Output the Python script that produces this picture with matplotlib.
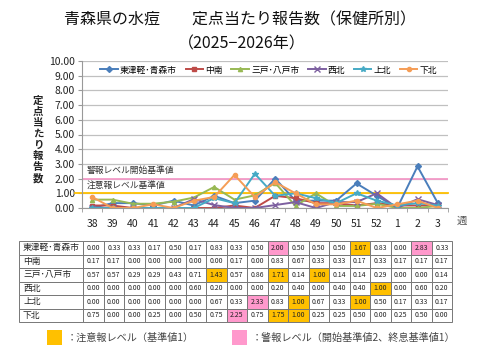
import matplotlib
matplotlib.use("Agg")
import matplotlib.pyplot as plt
import numpy as np
from matplotlib.patches import Rectangle

plt.rcParams['font.family'] = ['Noto Sans CJK JP', 'DejaVu Sans']

weeks = ["38", "39", "40", "41", "42", "43", "44", "45", "46", "47", "48", "49", "50", "51", "52", "1", "2", "3"]
names = ["東津軽･青森市", "中南", "三戸･八戸市", "西北", "上北", "下北"]
higashi = [0.00, 0.33, 0.33, 0.17, 0.50, 0.17, 0.83, 0.33, 0.50, 2.00, 0.50, 0.50, 0.50, 1.67, 0.83, 0.00, 2.83, 0.33]
chunan = [0.17, 0.17, 0.00, 0.00, 0.00, 0.00, 0.00, 0.17, 0.00, 0.83, 0.67, 0.33, 0.33, 0.17, 0.33, 0.17, 0.17, 0.17]
sannohe = [0.57, 0.57, 0.29, 0.29, 0.43, 0.71, 1.43, 0.57, 0.86, 1.71, 0.14, 1.00, 0.14, 0.14, 0.29, 0.00, 0.00, 0.14]
seihoku = [0.00, 0.00, 0.00, 0.00, 0.00, 0.60, 0.20, 0.00, 0.00, 0.20, 0.40, 0.00, 0.40, 0.40, 1.00, 0.00, 0.60, 0.20]
kamikita = [0.00, 0.00, 0.00, 0.00, 0.00, 0.00, 0.67, 0.33, 2.33, 0.83, 1.00, 0.67, 0.33, 1.00, 0.50, 0.17, 0.33, 0.17]
shimokita = [0.75, 0.00, 0.00, 0.25, 0.00, 0.50, 0.75, 2.25, 0.75, 1.75, 1.00, 0.25, 0.25, 0.50, 0.00, 0.25, 0.50, 0.00]
series = [higashi, chunan, sannohe, seihoku, kamikita, shimokita]
colors = ["#4A7EBB", "#BE4B48", "#98B954", "#7D60A0", "#46AAC5", "#F59D56"]
markers = ["D", "s", "^", "x", "*", "o"]
alarm_level = 2.0
caution_level = 1.0
yticks = [0, 1, 2, 3, 4, 5, 6, 7, 8, 9, 10]

W, H = 480, 360
fig = plt.figure(figsize=(4.8, 3.6), dpi=100)

def fx(px):
    return px / W

def fy(py):
    return 1 - py / H

# main plot
ax = fig.add_axes([fx(82), fy(208), (448 - 82) / W, (208 - 61) / H])
x = np.arange(len(weeks))
for vals, nm, c, m in zip(series, names, colors, markers):
    ms = 3.0 if m in ("D", "s", "^", "o") else 4.0
    ax.plot(x, vals, color=c, marker=m, markersize=ms, linewidth=1.4, label=nm,
            markeredgewidth=1.0)
ax.set_xlim(-0.5, len(weeks) - 0.5)
ax.set_ylim(0, 10)
ax.set_yticks(yticks)
ax.set_yticklabels([f"{v:.2f}" for v in yticks], fontsize=7.5, color="#222222")
ax.set_xticks(x)
ax.set_xticklabels(weeks, fontsize=7.5, color="#222222")
ax.set_xticks(np.arange(-0.5, len(weeks), 1), minor=True)
ax.tick_params(axis='x', which='major', length=0, pad=8)
ax.tick_params(axis='x', which='minor', length=3, color="#999999", direction='out')
ax.tick_params(axis='y', length=3, color="#999999", pad=2)
ax.grid(axis='y', color="#C0C0C0", linewidth=0.9)
ax.set_axisbelow(True)
for s in ["top", "right"]:
    ax.spines[s].set_visible(False)
ax.spines["left"].set_color("#999999")
ax.spines["bottom"].set_color("#999999")

ax.axhline(alarm_level, color="#F49AC8", linewidth=1.3, zorder=1)
ax.plot([-0.85, len(weeks) - 0.5], [caution_level, caution_level], color="#FFC000",
        linewidth=1.3, zorder=1, clip_on=False)
ax.text(-0.25, alarm_level + 0.25, "警報レベル開始基準値", fontsize=6.3, color="#333333", va="bottom")
ax.text(-0.25, caution_level + 0.25, "注意報レベル基準値", fontsize=6.3, color="#333333", va="bottom")

leg = ax.legend(loc="upper center", bbox_to_anchor=(0.51, 1.005), ncol=6, frameon=False,
                fontsize=6.3, handlelength=2.0, columnspacing=1.0, handletextpad=0.25,
                borderaxespad=0.2)

# y label vertical stacked
ylab = "定点当たり報告数"
for i, ch in enumerate(ylab):
    fig.text(fx(38), fy(101 + i * 11), ch, fontsize=7.5, fontweight="bold",
             ha="center", va="center", color="#222222")

fig.text(fx(462), fy(221), "週", fontsize=7.5, ha="center", va="center", color="#555555")

# title
fig.text(fx(240), fy(20), "青森県の水痘　　定点当たり報告数（保健所別）", fontsize=11.5,
         ha="center", va="center", color="#111111")
fig.text(fx(242), fy(44), "（2025−2026年）", fontsize=11.5, ha="center", va="center", color="#111111")

# table
ov = fig.add_axes([0, 0, 1, 1])
ov.set_xlim(0, W)
ov.set_ylim(H, 0)
ov.axis("off")
tx0, lab_w = 19, 64
cw = (452 - 83) / len(weeks)
ty0, rh = 241, 13.5
for r, (nm, vals) in enumerate(zip(names, series)):
    y0 = ty0 + r * rh
    ov.add_patch(Rectangle((tx0, y0), lab_w, rh, facecolor="white", edgecolor="#777777", linewidth=0.7))
    ov.text(tx0 + 4, y0 + rh / 2, nm, fontsize=6.3, va="center", ha="left", color="#222222")
    for c_, v in enumerate(vals):
        xx = tx0 + lab_w + c_ * cw
        if v >= alarm_level:
            fc = "#FF99CC"
        elif v >= caution_level:
            fc = "#FFC000"
        else:
            fc = "white"
        ov.add_patch(Rectangle((xx, y0), cw, rh, facecolor=fc, edgecolor="#777777", linewidth=0.7))
        ov.text(xx + cw / 2, y0 + rh / 2, f"{v:.2f}", fontsize=5.0, va="center", ha="center",
                color="#222222")

# bottom legend
ov.add_patch(Rectangle((47, 330), 15, 15, facecolor="#FFC000", edgecolor="none"))
ov.text(67, 337.5, "：注意報レベル（基準値1）", fontsize=7.3, va="center", ha="left", color="#444444")
ov.add_patch(Rectangle((232, 330), 15, 15, facecolor="#FF99CC", edgecolor="none"))
ov.text(252, 337.5, "：警報レベル（開始基準値2、終息基準値1）", fontsize=7.3, va="center", ha="left",
        color="#444444")

fig.savefig("out.png", dpi=100)
